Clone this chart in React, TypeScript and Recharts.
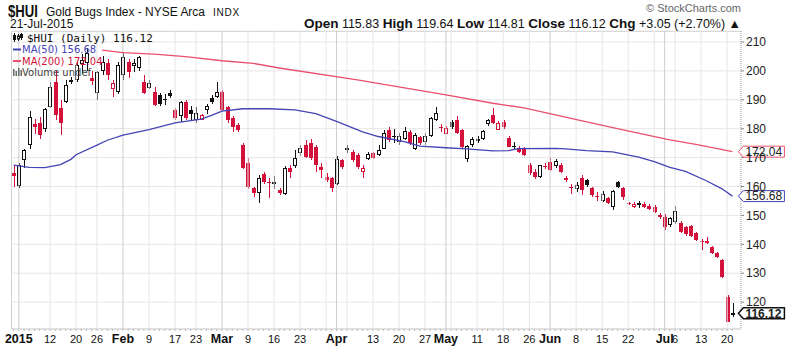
import React from "react";
import {
  ComposedChart,
  Bar,
  Line,
  XAxis,
  YAxis,
  CartesianGrid,
  ReferenceLine,
  ReferenceDot,
} from "recharts";

// trading days, Dec 31 2014 .. Jul 21 2015
const DEC = [31];
const JAN = [2, 5, 6, 7, 8, 9, 12, 13, 14, 15, 16, 20, 21, 22, 23, 26, 27, 28, 29, 30];
const FEB = [2, 3, 4, 5, 6, 9, 10, 11, 12, 13, 17, 18, 19, 20, 23, 24, 25, 26, 27];
const MAR = [2, 3, 4, 5, 6, 9, 10, 11, 12, 13, 16, 17, 18, 19, 20, 23, 24, 25, 26, 27, 30, 31];
const APR = [1, 2, 6, 7, 8, 9, 10, 13, 14, 15, 16, 17, 20, 21, 22, 23, 24, 27, 28, 29, 30];
const MAY = [1, 4, 5, 6, 7, 8, 11, 12, 13, 14, 15, 18, 19, 20, 21, 22, 26, 27, 28, 29];
const JUN = [1, 2, 3, 4, 5, 8, 9, 10, 11, 12, 15, 16, 17, 18, 19, 22, 23, 24, 25, 26, 29, 30];
const JUL = [1, 2, 6, 7, 8, 9, 10, 13, 14, 15, 16, 17, 20, 21];

const MONTHS: [number, number[]][] = [
  [12, DEC], [1, JAN], [2, FEB], [3, MAR], [4, APR], [5, MAY], [6, JUN], [7, JUL],
];
const DAYS = MONTHS.flatMap(([m, ds]) => ds.map((d) => `${m}-${d}`));

const PRIOR_CLOSE = 165;

const OPEN = [
  164.5, 160.2, 169.2, 174.4, 181.5, 182, 180.2, 187.6, 196.3, 187, 189.3, 196.8, 197, 202.5, 203, 197.5,
  192.4, 200, 202.7, 194, 192.7, 198.6, 203, 201.8, 201.2, 196, 194.3, 192.8, 191.7, 190.2, 192.3, 186.5,
  184.7, 189.3, 186.5, 183.2, 183.3, 186.6, 190.6, 191, 192.8, 187.6, 183.7, 181.3, 174.4, 168, 159.5, 157.8,
  164.3, 161.5, 161.3, 158.8, 157.6, 166.3, 167.1, 171.7, 174.4, 175, 173.8, 166.7, 163.4, 162.8, 161.1, 169.2,
  173, 172, 170.9, 165.1, 169.8, 171.5, 170.9, 173.2, 179.6, 177.3, 175.5, 176.7, 179, 173.2, 177, 175.5,
  177.8, 183.2, 180.5, 178.4, 182.4, 183, 179.6, 169.8, 174.4, 176.1, 176.7, 181.9, 184.7, 179.8, 182.4, 176.7,
  173.9, 173.2, 173.2, 167.4, 165.1, 163.6, 167.1, 168.6, 167.1, 167.4, 162.8, 160, 159.4, 162.8, 162.2, 159.4,
  156.6, 155.3, 155.9, 153, 161.7, 159.4, 154.3, 153, 153.9, 154, 153.3, 153, 150.1, 149.6, 146.7, 147.8,
  147.5, 146.1, 146.3, 143.8, 141, 140.5, 139.2, 136.9, 134.6, 121.9, 115.83,
];
const HIGH = [
  167, 168, 173, 186, 183.5, 184, 187, 196, 200, 190, 197, 198, 203, 206, 208, 200,
  200, 205, 204, 197, 203, 206.5, 204, 204, 205, 198.5, 197, 194.5, 192.5, 192, 193.5, 187,
  189.5, 190, 188, 187.6, 185, 188.5, 191.5, 196, 193.5, 188, 184.5, 182, 175, 170, 160, 164,
  165, 163, 163.5, 159.5, 167, 167.5, 172.6, 174.5, 176, 176.5, 174.5, 168, 164.5, 163.4, 170.5, 169.5,
  174.5, 172.5, 171.5, 167.5, 172, 172, 174.5, 179.5, 180.5, 180, 178.5, 180.5, 179.5, 178.5, 177.5, 178.5,
  184, 187.4, 181.5, 181, 183, 184.5, 180, 174.5, 177, 177.5, 179.5, 183.5, 187.1, 182.5, 183, 177.5,
  175.5, 174, 173.8, 168, 166, 167.5, 168, 169.8, 169.5, 168, 163.5, 161, 161.5, 164, 162.5, 160,
  158, 158.5, 156.5, 158.7, 162, 160, 154.8, 154.5, 155, 154.5, 154, 153.5, 151, 150.5, 149.5, 153.3,
  148, 146.5, 146.8, 144.3, 142, 142.5, 139.5, 137.2, 135, 122.5, 119.64,
];
const LOW = [
  160, 159.5, 166.4, 173, 178, 176.4, 179, 187, 183, 177.8, 189, 195.5, 196, 199, 200, 195,
  190, 198.5, 197, 191, 192, 197, 197.5, 199.5, 200, 192, 193.8, 188, 188, 188.2, 190.5, 183,
  182.4, 183, 183, 182, 183, 185, 188.5, 190.5, 186, 182, 179, 179, 166, 159, 156.5, 154.3,
  161, 156, 159, 157, 157, 163, 166.5, 170.5, 170, 169, 165, 163, 161.6, 158, 160.5, 166,
  171.5, 168.5, 166, 163, 169, 169.5, 170.5, 173, 175.5, 175, 174.5, 176, 174.5, 172.5, 174.5, 174.5,
  177, 182.5, 179, 178, 180, 178, 173, 168.6, 173.5, 175, 176, 181, 181.5, 179.5, 180, 173.5,
  172.5, 171.5, 170.5, 164, 162.6, 163, 166, 165.5, 166.5, 164.5, 161.5, 157.5, 158, 157, 160, 156.5,
  155, 154.5, 154, 152, 159.5, 155.5, 153.5, 152.5, 152.5, 152.5, 151.8, 151, 148.8, 145, 146, 147,
  144, 143, 142.5, 141.2, 138, 140, 136.5, 135.3, 128.5, 113, 114.81,
];
const CLOSE = [
  163.5, 167.4, 172.4, 184, 180.5, 177.8, 186.5, 194.3, 184.7, 182, 195.1, 196.3, 202, 203.5, 206, 196.6,
  199.3, 203, 198.6, 195.8, 202, 204.5, 199.5, 202.4, 204.5, 192.4, 195.8, 188.2, 188.5, 190, 191.2, 183.6,
  188.9, 183.6, 185, 185.3, 184.5, 187.6, 189.4, 192.5, 186.5, 183, 180.7, 179.6, 166.4, 160, 157.8, 162.9,
  161.6, 161.1, 161.4, 157.6, 166.3, 165.1, 169.8, 173.2, 170.3, 170, 167.4, 165.7, 162.3, 159.4, 169.2, 166.8,
  173.2, 169.2, 166.8, 166.3, 171.2, 169.8, 172.6, 178.4, 176.1, 177.2, 177.3, 179, 175, 177.8, 175, 177.2,
  183.6, 185.3, 180.1, 180, 180.7, 178.4, 173.8, 174, 176.1, 176.2, 179, 183, 182.1, 181.8, 180.7, 173.8,
  173.9, 172, 171, 164.6, 163.4, 167.1, 167, 165.7, 168.6, 165.1, 162.2, 159.9, 160.5, 158.8, 160.5, 157.1,
  156.5, 157.1, 154.2, 158.2, 159.9, 156.5, 154.2, 153.8, 153.95, 152.8, 152.1, 151.3, 149.3, 146.1, 149, 151.3,
  144.4, 143.6, 142.9, 141.5, 140.9, 140.8, 136.9, 135.7, 128.8, 113.07, 116.12,
];

const MA50_DAYS = [
  "12-31", "1-6", "1-9", "1-14", "1-16", "1-20", "1-26", "1-28", "2-2", "2-9", "2-17", "2-24", "2-26",
  "3-2", "3-6", "3-13", "3-20", "3-26", "4-1", "4-9", "4-14", "4-21", "4-24", "5-1", "5-7", "5-14",
  "5-19", "5-21", "6-2", "6-4", "6-10", "6-17", "6-24", "6-29", "7-2", "7-8", "7-14", "7-17", "7-21",
];
const MA50 = [
  167.4, 166.6, 166.5, 167.6, 169.4, 171, 174.3, 176, 177.8, 179.7, 182, 183.3, 184.6,
  186.1, 186.9, 186.9, 186.5, 185.2, 182.5, 178.9, 177.3, 175.5, 174, 173.4, 173, 172.3,
  172.4, 173.1, 173.2, 173, 172.4, 172, 170.2, 168.6, 166.6, 165.2, 162, 159.2, 156.68,
];
const MA200_DAYS = [
  "1-27", "2-2", "2-10", "2-19", "3-2", "3-10", "3-17", "4-8", "5-1", "5-14", "5-22", "6-5", "6-19",
  "7-2", "7-10", "7-21",
];
const MA200 = [
  207.2, 206.3, 205.8, 204.9, 203.5, 202.6, 201, 196.9, 191.7, 188.8, 187.2, 183.6, 179.6,
  176.1, 174.6, 172.04,
];

const Y_TICKS = [120, 130, 140, 150, 160, 170, 180, 190, 200, 210];
const X_LABELS: Record<string, string> = {
  "1-2": "2015", "1-12": "12", "1-20": "20", "1-26": "26", "2-2": "Feb", "2-9": "9", "2-17": "17",
  "2-23": "23", "3-2": "Mar", "3-9": "9", "3-16": "16", "3-23": "23", "4-1": "Apr", "4-13": "13",
  "4-20": "20", "4-27": "27", "5-1": "May", "5-11": "11", "5-18": "18", "5-26": "26", "6-1": "Jun",
  "6-8": "8", "6-15": "15", "6-22": "22", "7-1": "Jul", "7-6": "6", "7-13": "13", "7-20": "20",
};
const BOLD_LABELS = ["2015", "Feb", "Mar", "Apr", "May", "Jun", "Jul"];
const WEEK_LINES = [
  "1-12", "1-20", "1-26", "2-9", "2-17", "2-23", "3-9", "3-16", "3-23", "3-30", "4-6", "4-13", "4-20",
  "4-27", "5-4", "5-11", "5-18", "5-26", "6-8", "6-15", "6-22", "6-29", "7-6", "7-13", "7-20",
];
const MONTH_LINES = ["1-2", "2-2", "3-2", "4-1", "5-1", "6-1", "7-1"];

const RED = "#d3113b";
const BLACK = "#111";
const BLUE = "#4444b4";
const PINK = "#e9506c";
const FONT = "'Liberation Sans', Arial, Helvetica, sans-serif";

const ma50Map = new Map(MA50_DAYS.map((d, i) => [d, MA50[i]]));
const ma200Map = new Map(MA200_DAYS.map((d, i) => [d, MA200[i]]));

const rows = DAYS.map((d, i) => ({
  d,
  o: OPEN[i],
  h: HIGH[i],
  l: LOW[i],
  c: CLOSE[i],
  pc: i === 0 ? PRIOR_CLOSE : CLOSE[i - 1],
  range: [LOW[i], HIGH[i]],
  ma50: ma50Map.get(d) ?? null,
  ma200: ma200Map.get(d) ?? null,
}));

function Candle(props: any) {
  const { x, y, width, height, payload } = props;
  if (!payload || height == null) return null;
  const { o, h, l, c, pc } = payload;
  const py = (v: number) => y + ((h - v) / (h - l)) * height;
  const color = c >= pc ? BLACK : RED;
  const hollow = c > o;
  const left = Math.round(x + width / 2) - 2;
  const top = py(Math.max(o, c));
  const bot = py(Math.min(o, c));
  const bh = Math.max(bot - top, 1);
  return (
    <g shapeRendering="crispEdges">
      <line x1={left + 2} x2={left + 2} y1={y} y2={y + height} stroke={color} strokeWidth={1} />
      {hollow ? (
        <rect x={left + 0.5} y={top} width={3} height={Math.max(bh, 1)} fill="#fff" stroke={color} strokeWidth={1} />
      ) : (
        <rect x={left} y={top} width={4} height={bh} fill={color} />
      )}
    </g>
  );
}

function XTick(props: any) {
  const { x, y, payload } = props;
  const label = X_LABELS[payload.value];
  if (!label) return null;
  const bold = BOLD_LABELS.includes(label);
  return (
    <text
      x={x}
      y={y + 10}
      textAnchor="middle"
      fontSize={bold ? 12.5 : 11}
      fontWeight={bold ? 700 : 400}
      fill="#111"
      fontFamily={FONT}
    >
      {label}
    </text>
  );
}

function Tag({ cx, cy, text, color, bold }: any) {
  const tip = cx + 6;
  return (
    <g>
      <path
        d={`M${tip},${cy} L${tip + 5},${cy - 5.5} H${tip + 46} V${cy + 5.5} H${tip + 5} Z`}
        fill="#fff"
        stroke={color}
        strokeWidth={bold ? 1.5 : 1}
      />
      <text x={tip + 7} y={cy + 4.3} fontSize={12} fontWeight={bold ? 700 : 400} fill="#222" fontFamily={FONT}>
        {text}
      </text>
    </g>
  );
}

function Header() {
  return (
    <svg width={800} height={352} style={{ position: "absolute", left: 0, top: 0, pointerEvents: "none" }}>
      <g fontFamily={FONT} fill="#111">
        <text x={8} y={16.5} fontSize={17} fontWeight={700} textLength={30} lengthAdjust="spacingAndGlyphs">
          $HUI
        </text>
        <text x={46} y={15.5} fontSize={12} textLength={159} lengthAdjust="spacingAndGlyphs">
          Gold Bugs Index - NYSE Arca
        </text>
        <text x={213} y={15.5} fontSize={10} letterSpacing={0.8}>INDX</text>
        <text x={10} y={27.5} fontSize={12}>21-Jul-2015</text>
        <text x={741} y={27.5} textAnchor="end" fontSize={12.5} style={{ whiteSpace: "pre" }}>
          <tspan fontWeight={700} fontSize={13.5}>Open</tspan> 115.83 <tspan fontWeight={700} fontSize={13.5}>High</tspan> 119.64{" "}
          <tspan fontWeight={700} fontSize={13.5}>Low</tspan> 114.81 <tspan fontWeight={700} fontSize={13.5}>Close</tspan> 116.12{" "}
          <tspan fontWeight={700} fontSize={13.5}>Chg</tspan> +3.05 (+2.70%) ▲
        </text>
        <text x={741} y={12} textAnchor="end" fontSize={11} fill="#666">© StockCharts.com</text>
      </g>
      <g>
        {/* candle icon */}
        <line x1={14.5} x2={14.5} y1={33} y2={42} stroke="#111" />
        <rect x={13} y={35} width={3} height={5} fill="#111" />
        <line x1={18.5} x2={18.5} y1={34} y2={41} stroke="#111" />
        <rect x={17.5} y={36} width={2} height={3} fill="#fff" stroke="#111" />
        <line x1={21.5} x2={21.5} y1={33} y2={40} stroke="#111" />
        <rect x={20} y={34} width={3} height={4} fill="#111" />
        <text x={27} y={41.5} fontSize={11} fontFamily="'DejaVu Sans Mono', monospace" fill="#111">
          $HUI (Daily) 116.12
        </text>
        <line x1={13} x2={21} y1={49.5} y2={49.5} stroke={BLUE} strokeWidth={2} />
        <text x={22} y={53} fontSize={10} fontFamily="'DejaVu Sans', sans-serif" fill={BLUE}>
          MA(50) 156.68
        </text>
        <line x1={13} x2={21} y1={61} y2={61} stroke={PINK} strokeWidth={2} />
        <text x={22} y={64.5} fontSize={10} fontFamily="'DejaVu Sans', sans-serif" fill={RED}>
          MA(200) 172.04
        </text>
        <rect x={13} y={69} width={1.5} height={7} fill="#666" />
        <rect x={15.5} y={71} width={1.5} height={5} fill="#666" />
        <rect x={18} y={68} width={1.5} height={8} fill="#666" />
        <rect x={20.5} y={70} width={1.5} height={6} fill="#666" />
        <text x={22} y={76} fontSize={10} fontFamily="'DejaVu Sans', sans-serif" fill="#444">
          Volume undef
        </text>
      </g>
    </svg>
  );
}

export default function App() {
  return (
    <div style={{ position: "absolute", left: 0, top: 0, width: 800, height: 352, background: "#fff", fontFamily: FONT }}>
      <div
        style={{
          position: "absolute",
          left: 11,
          top: 31,
          width: 730,
          height: 298,
          borderTop: "1px solid #cfcfcf",
          borderLeft: "1px solid #cfcfcf",
          boxSizing: "border-box",
        }}
      />
      <div style={{ position: "absolute", left: 0, top: 0 }}>
        <ComposedChart width={800} height={352} data={rows} margin={{ top: 31, right: 0, bottom: 0, left: 11 }}>
          <CartesianGrid vertical={false} stroke="#e6e6e6" />
          {WEEK_LINES.map((d) => (
            <ReferenceLine key={`w${d}`} x={d} stroke="#e6e6e6" />
          ))}
          {MONTH_LINES.map((d) => (
            <ReferenceLine key={`m${d}`} x={d} stroke="#cdcdcd" />
          ))}
          <XAxis
            dataKey="d"
            type="category"
            ticks={DAYS}
            interval={0}
            tick={<XTick />}
            tickSize={2}
            tickLine={{ stroke: "#bbb" }}
            axisLine={{ stroke: "#cfcfcf" }}
            height={23}
            padding={{ left: 0, right: 6 }}
          />
          <YAxis
            orientation="right"
            type="number"
            domain={[110.7, 213.8]}
            ticks={Y_TICKS}
            allowDataOverflow
            width={59}
            tickSize={3}
            tickLine={{ stroke: "#888" }}
            axisLine={{ stroke: "#999", strokeDasharray: "1 1" }}
            tick={{ fontSize: 12, fill: "#222", fontFamily: FONT }}
          />
          <Bar dataKey="range" barSize={4} shape={<Candle />} isAnimationActive={false} />
          <Line
            dataKey="ma200"
            stroke={PINK}
            strokeWidth={1.3}
            dot={false}
            connectNulls
            isAnimationActive={false}
          />
          <Line
            dataKey="ma50"
            stroke={BLUE}
            strokeWidth={1.3}
            dot={false}
            connectNulls
            isAnimationActive={false}
          />
          <ReferenceDot
            x="7-21"
            y={172.04}
            ifOverflow="visible"
            shape={(p: any) => <Tag cx={p.cx} cy={p.cy} text="172.04" color={PINK} />}
          />
          <ReferenceDot
            x="7-21"
            y={156.68}
            ifOverflow="visible"
            shape={(p: any) => <Tag cx={p.cx} cy={p.cy} text="156.68" color={BLUE} />}
          />
          <ReferenceDot
            x="7-21"
            y={116.12}
            ifOverflow="visible"
            shape={(p: any) => <Tag cx={p.cx} cy={p.cy} text="116.12" color="#111" bold />}
          />
        </ComposedChart>
      </div>
      <Header />
    </div>
  );
}
